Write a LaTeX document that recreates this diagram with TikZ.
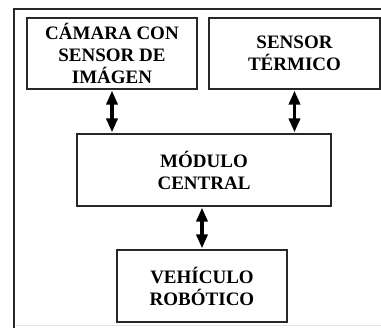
\documentclass[tikz,border=0pt]{standalone}
\usepackage{fontspec}
\setmainfont{Liberation Serif}
\usetikzlibrary{arrows.meta}
\definecolor{linegray}{RGB}{40,40,40}
\begin{document}
\begin{tikzpicture}[x=1pt,y=-1pt,
  blockbox/.style={draw=linegray, line width=1.6pt, rectangle, align=center,
    font=\fontsize{19}{22}\selectfont\bfseries, inner sep=0pt},
  dblarrow/.style={line width=3.5pt, {Triangle[width=11pt,length=14pt]}-{Triangle[width=11pt,length=14pt]}, shorten <=0.8pt, shorten >=0.8pt}
]
\useasboundingbox (0,0) rectangle (381,328);
\fill[white] (0,0) rectangle (381,328);
% outer frame
\coordinate (ftl) at (14,9);
\coordinate (ftr) at (381,9);
\coordinate (fbl) at (14,328);
\coordinate (bl1) at (16,325);
\coordinate (bl2) at (381,325);
\draw[linegray, line width=2.6pt] (ftr) -- (ftl) -- (fbl);
\draw[black!10, line width=0.8pt] (bl1) -- (bl2);
% blocks
\node[blockbox, minimum width=170pt, minimum height=71pt] (cam) at (112,53.5) {CÁMARA CON\\SENSOR DE\\IMÁGEN};
\node[blockbox, minimum width=171pt, minimum height=71pt] (ter) at (294.5,53.5) {SENSOR\\TÉRMICO};
\node[blockbox, minimum width=254pt, minimum height=72pt] (mod) at (204,170) {MÓDULO\\CENTRAL};
\node[blockbox, minimum width=170pt, minimum height=72pt] (veh) at (202,286) {VEHÍCULO\\ROBÓTICO};
% arrows
\draw[dblarrow] (cam.south) -- (cam.south |- mod.north);
\draw[dblarrow] (ter.south) -- (ter.south |- mod.north);
\draw[dblarrow] (veh.north |- mod.south) -- (veh.north);
\end{tikzpicture}
\end{document}
